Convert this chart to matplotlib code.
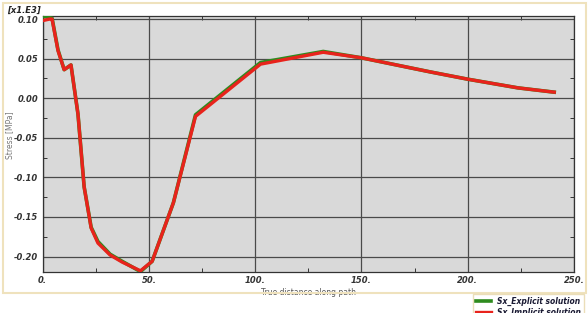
import numpy as np
import matplotlib.pyplot as plt
from matplotlib.patches import Rectangle
from matplotlib.ticker import MultipleLocator, FuncFormatter

# distance along path and stress (in x1.E3 MPa)
dist_impl = [0.0, 3.4, 4.4, 7.2, 10.1, 13.3, 16.6, 19.5, 22.8, 26.0, 31.7, 37.4,
             46.0, 51.5, 61.5, 71.9, 102.5, 132.0, 150.0, 182.7, 200.0, 223.7, 240.7]
sx_impl = [0.098, 0.100, 0.100, 0.060, 0.036, 0.042, -0.020, -0.112, -0.164, -0.183,
           -0.198, -0.207, -0.218, -0.206, -0.132, -0.023, 0.043, 0.058, 0.051,
           0.033, 0.024, 0.013, 0.0076]

dist_expl = [0.0, 1.5, 4.4, 7.2, 10.1, 13.3, 16.6, 19.5, 22.8, 26.0, 31.7, 37.4,
             46.0, 51.5, 61.5, 71.9, 102.5, 132.0, 150.0, 182.7, 200.0, 223.7, 240.7]
sx_expl = [0.103, 0.103, 0.101, 0.061, 0.036, 0.042, -0.020, -0.112, -0.163, -0.181,
           -0.197, -0.206, -0.219, -0.206, -0.132, -0.021, 0.045, 0.059, 0.051,
           0.033, 0.024, 0.013, 0.0076]

W, H = 588, 313
fig = plt.figure(figsize=(W / 100, H / 100), dpi=100)
fig.patch.set_facecolor('white')

# beige frame around the plot panel
fig.patches.append(Rectangle((3 / W, 1 - 293 / H), 583 / W, 290 / H, transform=fig.transFigure,
                             fill=False, edgecolor='#efe2bd', linewidth=1.5))

ax = fig.add_axes([42.7 / W, 1 - 272 / H, (574 - 42.7) / W, (272 - 16) / H])
ax.set_facecolor('#d9d9d9')

l1, = ax.plot(dist_expl, sx_expl, color='#2e8b1e', lw=2.6, solid_joinstyle='round',
              label='Sx_Explicit solution', zorder=3)
l2, = ax.plot(dist_impl, sx_impl, color='#e8231c', lw=2.4, solid_joinstyle='round',
              label='Sx_Implicit solution', zorder=4)

ax.set_xlim(0, 250)
ax.set_ylim(-0.2195, 0.1038)
ax.xaxis.set_major_locator(MultipleLocator(50))
ax.xaxis.set_minor_locator(MultipleLocator(25))
ax.yaxis.set_major_locator(MultipleLocator(0.05))
ax.yaxis.set_minor_locator(MultipleLocator(0.025))
ax.xaxis.set_major_formatter(FuncFormatter(lambda v, p: '%d.' % round(v)))
ax.yaxis.set_major_formatter(FuncFormatter(lambda v, p: '%.2f' % v))
ax.grid(True, which='major', color='#4a4a4a', lw=0.9)
ax.set_axisbelow(True)
ax.tick_params(which='both', direction='in', top=True, right=True, colors='#333333')
ax.tick_params(which='major', length=0, labelsize=6, pad=3)
ax.tick_params(which='minor', length=3, width=0.7)
for lab in ax.get_xticklabels() + ax.get_yticklabels():
    lab.set_fontweight('bold')
    lab.set_fontstyle('italic')
for s in ax.spines.values():
    s.set_color('#333333')
    s.set_linewidth(0.9)

ax.set_xlabel('True distance along path', fontsize=5.5, color='#555555', labelpad=2)
fig.text(10 / W, 1 - 135 / H, 'Stress [MPa]', rotation=90, fontsize=5.5, color='#777777',
         ha='center', va='center')
fig.text(7 / W, 1 - 10 / H, '[x1.E3]', fontsize=6, fontweight='bold', fontstyle='italic',
         color='#222222', ha='left', va='center')

leg = fig.legend(handles=[l1, l2], loc='upper left', bbox_to_anchor=(473 / W, 1 - 294 / H),
                 fontsize=5.5, frameon=True, fancybox=False, edgecolor='#e6d6a8',
                 handlelength=2.0, handletextpad=0.8, borderpad=0.35, labelspacing=0.3,
                 borderaxespad=0)
for t in leg.get_texts():
    t.set_fontweight('bold')
    t.set_fontstyle('italic')
    t.set_color('#1a1a33')

fig.savefig('out.png', dpi=100)
